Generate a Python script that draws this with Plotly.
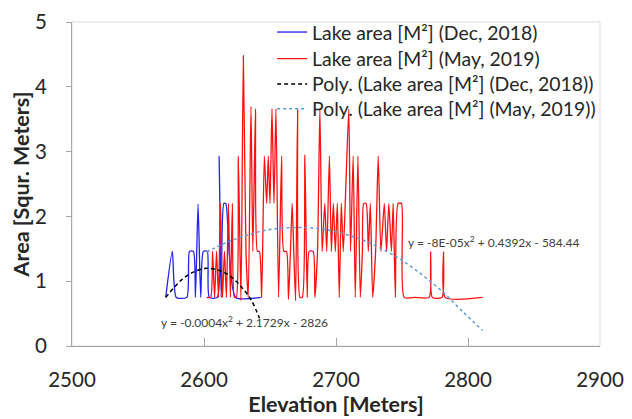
import plotly.graph_objects as go

# Dec 2018 series
dec_elev = [2571, 2576, 2579, 2587, 2589, 2592, 2593.5, 2595.5, 2597.5, 2599.5, 2602.5, 2604,
            2610, 2611.5, 2613, 2615, 2616.5, 2619, 2624, 2643]
dec_area = [0.75, 1.46, 0.75, 0.75, 1.46, 1.46, 0.75, 2.19, 0.75, 1.46, 1.46, 0.75,
            0.75, 2.93, 0.75, 2.2, 2.2, 1.46, 0.75, 0.75]

# May 2019 series
may_elev = [2602, 2605, 2606.5, 2608, 2609.5, 2611, 2612.5, 2614, 2615.5, 2617, 2618.5, 2620,
            2621.5, 2623, 2624.5, 2626, 2628, 2629.8, 2631.8, 2633.5, 2635.6, 2637, 2639,
            2640.5, 2642, 2643.7, 2645.7, 2647.5, 2648.7, 2650, 2651.5, 2653, 2654.5, 2656.5,
            2658.8, 2660.5, 2662.5, 2664, 2665.5, 2666.8, 2668, 2669.4, 2670.9, 2672.7,
            2674.5, 2676.4, 2678.2, 2679.7, 2682.7, 2684, 2686, 2687.8, 2689.5, 2691.5,
            2693, 2695, 2696.5, 2698, 2699.5, 2701, 2702.5, 2704, 2705.5, 2707, 2709.7,
            2711, 2713, 2714.6, 2716.6, 2718.4, 2720, 2721, 2722.8, 2724.5, 2726, 2727.8,
            2730, 2732, 2734, 2736.6, 2738.3, 2740, 2742, 2743.3, 2745, 2747, 2749.6,
            2751.6, 2760, 2770.5, 2771.7, 2773, 2780.3, 2781.5, 2782.7, 2811]
may_area = [0.75, 0.75, 1.46, 0.75, 1.46, 0.75, 2.2, 0.75, 1.46, 0.75, 2.2, 0.75,
            2.2, 0.75, 0.75, 2.93, 0.7, 4.48, 1.46, 0.75, 3.7, 1.46, 3.66,
            1.46, 1.46, 0.75, 2.93, 2.2, 2.93, 2.2, 3.66, 2.2, 3.66, 0.75,
            2.93, 1.46, 1.46, 0.72, 1.46, 2.2, 1.46, 0.7, 3.66, 0.75,
            0.75, 2.95, 0.75, 1.46, 1.46, 0.75, 1.46, 3.66, 1.46, 2.2,
            1.46, 2.93, 1.46, 2.2, 1.46, 2.2, 0.75, 2.2, 1.46, 2.2, 3.66,
            1.46, 2.93, 0.75, 2.93, 0.75, 1.46, 2.2, 2.2, 1.46, 2.2, 0.75,
            1.46, 2.93, 1.46, 2.2, 1.46, 2.2, 1.46, 2.2, 0.75, 2.2, 2.2,
            0.75, 0.75, 0.75, 1.45, 0.75, 0.75, 1.45, 0.75, 0.75]

# Polynomial trendlines, values
trend_dec_elev = [2571, 2583, 2593, 2602, 2611, 2619, 2628, 2636, 2642]
trend_dec_area = [0.75, 1.02, 1.15, 1.2, 1.17, 1.09, 0.92, 0.7, 0.43]
trend_may_elev = [2602, 2615, 2628, 2648, 2671, 2691, 2717, 2742, 2760, 2780, 2796, 2811]
trend_may_area = [1.45, 1.58, 1.68, 1.79, 1.83, 1.80, 1.66, 1.42, 1.18, 0.85, 0.53, 0.24]

x_ticks = [2500, 2600, 2700, 2800, 2900]
y_ticks = [0, 1, 2, 3, 4, 5]

names = ["Lake area [M²] (Dec, 2018)", "Lake area [M²] (May, 2019)",
         "Poly. (Lake area [M²] (Dec, 2018))", "Poly. (Lake area [M²] (May, 2019))"]
eq_dec = "y = -0.0004x<sup>2</sup> + 2.1729x - 2826"
eq_may = "y = -8E-05x<sup>2</sup> + 0.4392x - 584.44"

FONT = "Lato"
TXT = "#262626"
fig = go.Figure()
fig.add_trace(go.Scatter(x=dec_elev, y=dec_area, mode="lines", name=names[0], legend="legend",
                         line=dict(color="#2020F0", width=1.3, shape="spline", smoothing=0.6)))
fig.add_trace(go.Scatter(x=may_elev, y=may_area, mode="lines", name=names[1], legend="legend2",
                         line=dict(color="#FF1010", width=1.3, shape="spline", smoothing=0.6)))
fig.add_trace(go.Scatter(x=trend_dec_elev, y=trend_dec_area, mode="lines", name=names[2],
                         legend="legend3",
                         line=dict(color="#000000", width=1.5, dash="4px,3px", shape="spline")))
fig.add_trace(go.Scatter(x=trend_may_elev, y=trend_may_area, mode="lines", name=names[3],
                         legend="legend4",
                         line=dict(color="#5B9BD5", width=1.5, dash="3px,3px", shape="spline")))

fig.add_annotation(x=2631, y=0.37, text=eq_dec, showarrow=False, xref="x", yref="y",
                   font=dict(family=FONT, size=12, color="#404040"))
fig.add_annotation(x=2820, y=1.6, text=eq_may, showarrow=False, xref="x", yref="y",
                   font=dict(family=FONT, size=12, color="#404040"))

fig.add_shape(type="rect", xref="paper", yref="paper", x0=0, x1=1, y0=0, y1=1,
              line=dict(color="#D5DCE6", width=1), layer="below")


def leg(ytop):
    return dict(x=0.379, y=ytop, xanchor="left", yanchor="top", bgcolor="rgba(0,0,0,0)",
                font=dict(family=FONT, size=19.4, color=TXT), itemwidth=30)


# page body has an 8px margin; the figure is sized/offset so the plot area lands at
# x 72..600, y 22..346 of the 632x419 window
fig.update_layout(
    width=624, height=411,
    margin=dict(l=64, r=32, t=14, b=73, autoexpand=False),
    paper_bgcolor="white", plot_bgcolor="white",
    font=dict(family=FONT, color=TXT),
    showlegend=True,
    legend=leg(1.028), legend2=leg(0.946), legend3=leg(0.868), legend4=leg(0.791),
    xaxis=dict(range=[2500, 2900], tickvals=x_ticks, ticktext=[str(v) for v in x_ticks],
               automargin=False,
               showgrid=False, zeroline=False, showline=True, linecolor="#A6A6A6", linewidth=1,
               ticks="inside", ticklen=8, tickcolor="#A6A6A6",
               tickfont=dict(family=FONT, size=20.5, color=TXT),
               ticklabelstandoff=15,
               title=dict(text="<b>Elevation [Meters]</b>", standoff=4,
                          font=dict(family=FONT, size=21.5, color=TXT))),
    yaxis=dict(range=[0, 5], tickvals=y_ticks, ticktext=[str(v) for v in y_ticks],
               automargin=False,
               showgrid=False, zeroline=False, showline=True, linecolor="#A6A6A6", linewidth=1,
               ticks="outside", ticklen=5, tickcolor="#A6A6A6",
               tickfont=dict(family=FONT, size=20.5, color=TXT),
               ticklabelstandoff=15,
               title=dict(text="<b>Area [Squr. Meters]</b>", standoff=0,
                          font=dict(family=FONT, size=21.5, color=TXT))),
)

fig.write_html("out.html")
